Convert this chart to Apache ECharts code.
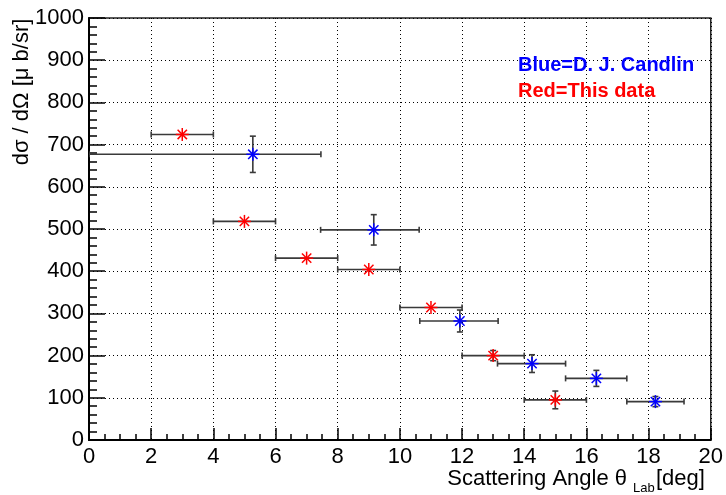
<!DOCTYPE html>
<html>
<head>
<meta charset="utf-8">
<script src="https://cdn.jsdelivr.net/npm/echarts@6/dist/echarts.min.js"></script>
<style>
  html, body { margin: 0; padding: 0; background: #fff; }
  #chart { width: 726px; height: 495px; }
</style>
</head>
<body>
<div id="chart"></div>
<script>
// This data: lab scattering angle [deg] with half-width, dσ/dΩ [μb/sr] with error
const redAngle    = [3, 5, 7, 9, 11, 13, 15];
const redAngleErr = [1, 1, 1, 1, 1, 1, 1];
const redXsec     = [724, 518, 431, 404, 314, 200, 95];
const redXsecErr  = [3, 3, 3, 3, 5, 12, 21];

// D. J. Candlin: angle with low/high edges, dσ/dΩ with error
const blueAngle     = [5.27, 9.16, 11.93, 14.25, 16.32, 18.22];
const blueAngleLow  = [0, 7.45, 10.64, 13.14, 15.33, 17.30];
const blueAngleHigh = [7.46, 10.62, 13.16, 15.33, 17.30, 19.14];
const blueXsec      = [677, 498, 282, 181, 146, 91];
const blueXsecErr   = [43, 36, 26, 21, 19, 12];

// Axis tick settings
const xTickStep = 2;
const yTickStep = 100;

const FONT = 'Liberation Sans, Arial, Helvetica, sans-serif';

const redRows = redAngle.map((x, i) => [
  x, redXsec[i], x - redAngleErr[i], x + redAngleErr[i],
  redXsec[i] - redXsecErr[i], redXsec[i] + redXsecErr[i]
]);
const blueRows = blueAngle.map((x, i) => [
  x, blueXsec[i], blueAngleLow[i], blueAngleHigh[i],
  blueXsec[i] - blueXsecErr[i], blueXsec[i] + blueXsecErr[i]
]);

// Error bars with end caps, plus an asterisk marker on top
function makeRender(color) {
  return function (params, api) {
    const x = api.value(0), y = api.value(1);
    const c  = api.coord([x, y]);
    const pl = api.coord([api.value(2), y]);
    const ph = api.coord([api.value(3), y]);
    const pb = api.coord([x, api.value(4)]);
    const pt = api.coord([x, api.value(5)]);
    const bar = { stroke: '#3a3a3a', lineWidth: 1.6 };
    const cap = 3;
    const kids = [];
    const line = (x1, y1, x2, y2, style) =>
      kids.push({ type: 'line', shape: { x1, y1, x2, y2 }, style });

    line(pl[0], c[1], ph[0], c[1], bar);
    line(pl[0], c[1] - cap, pl[0], c[1] + cap, bar);
    line(ph[0], c[1] - cap, ph[0], c[1] + cap, bar);
    if (pb[1] - c[1] >= 4) {
      line(c[0], pt[1], c[0], pb[1], bar);
      line(c[0] - cap, pt[1], c[0] + cap, pt[1], bar);
      line(c[0] - cap, pb[1], c[0] + cap, pb[1], bar);
    }
    const s = 6.5, d = s * 0.72;
    const m = { stroke: color, lineWidth: 1.5 };
    line(c[0] - s, c[1], c[0] + s, c[1], m);
    line(c[0], c[1] - s, c[0], c[1] + s, m);
    line(c[0] - d, c[1] - d, c[0] + d, c[1] + d, m);
    line(c[0] - d, c[1] + d, c[0] + d, c[1] - d, m);
    return { type: 'group', children: kids };
  };
}

const chart = echarts.init(document.getElementById('chart'), null, { renderer: 'canvas' });

const dotted = { color: '#000', width: 1, type: [1, 3] };
const plain = (v) => String(v);

chart.setOption({
  animation: false,
  backgroundColor: '#fff',
  grid: {
    left: 89, right: 14, top: 18, bottom: 55,
    show: true, borderColor: '#222', borderWidth: 1.5, backgroundColor: 'transparent'
  },
  xAxis: {
    type: 'value', min: 0, max: 20, interval: xTickStep,
    axisLine: { show: true, onZero: false, lineStyle: { color: '#000', width: 2 } },
    axisTick: { show: true, inside: true, length: 12, lineStyle: { color: '#000', width: 1.5 } },
    minorTick: { show: true, splitNumber: 4, length: 6, lineStyle: { color: '#000', width: 1.5 } },
    splitLine: { show: true, lineStyle: dotted },
    axisLabel: { color: '#000', fontSize: 22, fontFamily: FONT, margin: 6, formatter: plain, showMaxLabel: true, showMinLabel: true }
  },
  yAxis: {
    type: 'value', min: 0, max: 1000, interval: yTickStep,
    axisLine: { show: true, onZero: false, lineStyle: { color: '#000', width: 2 } },
    axisTick: { show: true, inside: true, length: 16, lineStyle: { color: '#000', width: 1.5 } },
    minorTick: { show: true, splitNumber: 5, length: 8, lineStyle: { color: '#000', width: 1.5 } },
    splitLine: { show: true, lineStyle: dotted },
    axisLabel: { color: '#000', fontSize: 22, fontFamily: FONT, margin: 5, formatter: plain, showMaxLabel: true, showMinLabel: true }
  },
  series: [
    {
      name: 'This data', type: 'custom', clip: true,
      renderItem: makeRender('#ff0000'),
      encode: { x: [0, 2, 3], y: [1, 4, 5] },
      data: redRows, z: 3
    },
    {
      name: 'D. J. Candlin', type: 'custom', clip: true,
      renderItem: makeRender('#0000ff'),
      encode: { x: [0, 2, 3], y: [1, 4, 5] },
      data: blueRows, z: 4
    }
  ],
  graphic: [
    {
      type: 'text', x: 627, y: 479, z: 10,
      style: { text: 'Scattering Angle θ', font: '22px ' + FONT, fill: '#000', align: 'right', verticalAlign: 'middle' }
    },
    {
      type: 'text', x: 633, y: 488, z: 10,
      style: { text: 'Lab', font: '13px ' + FONT, fill: '#000', align: 'left', verticalAlign: 'middle' }
    },
    {
      type: 'text', x: 656, y: 479, z: 10,
      style: { text: '[deg]', font: '22px ' + FONT, fill: '#000', align: 'left', verticalAlign: 'middle' }
    },
    {
      type: 'text', x: 22, y: 92, rotation: Math.PI / 2, z: 10,
      style: { text: 'dσ / dΩ [μ b/sr]', font: '22px ' + FONT, fill: '#000', align: 'center', verticalAlign: 'middle' }
    },
    {
      type: 'text', x: 518, y: 65, z: 10,
      style: { text: 'Blue=D. J. Candlin', font: 'bold 20px ' + FONT, fill: '#0000ff', align: 'left', verticalAlign: 'middle' }
    },
    {
      type: 'text', x: 518, y: 91, z: 10,
      style: { text: 'Red=This data', font: 'bold 20px ' + FONT, fill: '#ff0000', align: 'left', verticalAlign: 'middle' }
    }
  ]
});
</script>
</body>
</html>
